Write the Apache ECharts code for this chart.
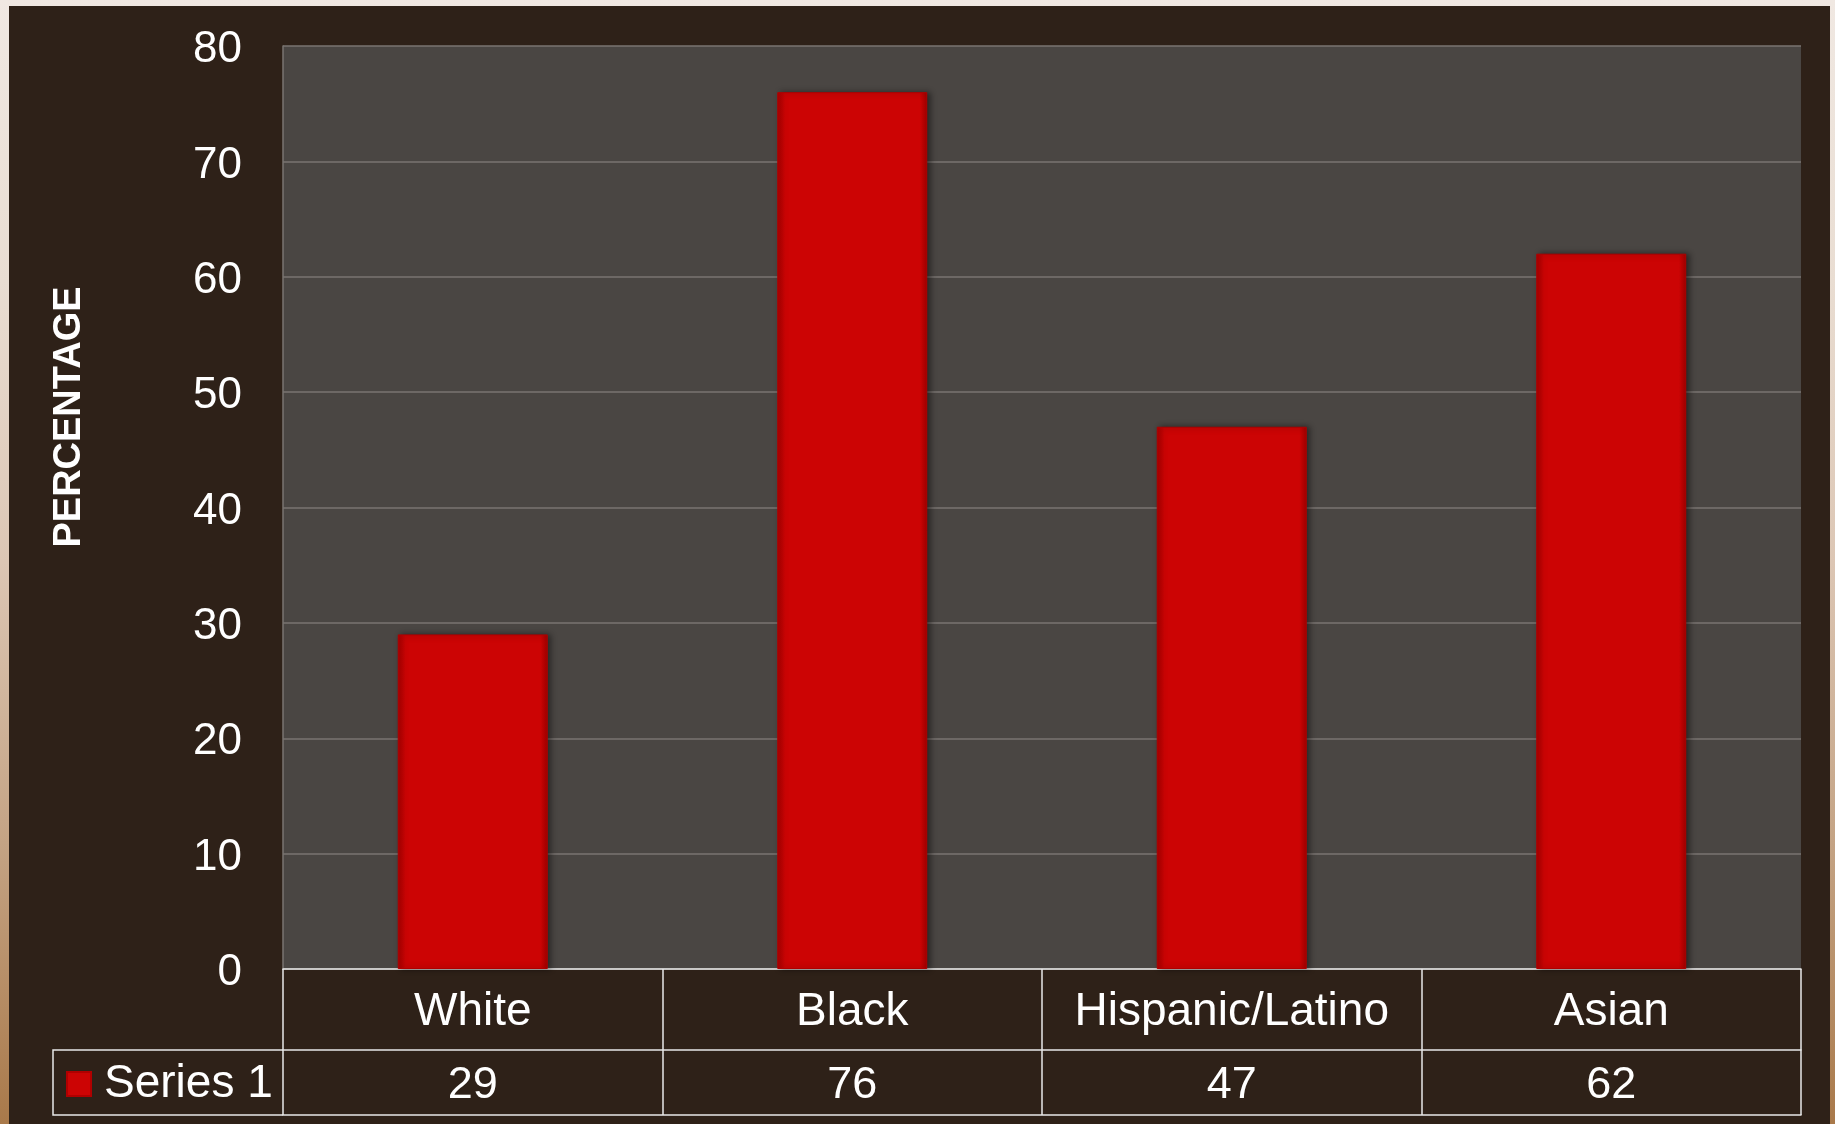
<!DOCTYPE html>
<html>
<head>
<meta charset="utf-8">
<script src="https://cdn.jsdelivr.net/npm/echarts@6/dist/echarts.min.js"></script>
<style>
html,body{margin:0;padding:0;width:1835px;height:1124px;overflow:hidden;}
body{background:linear-gradient(to bottom,#f0e8e2 0%,#e9ddd2 25%,#dcc6b4 50%,#c4a384 75%,#a9794a 100%);position:relative;}
#panel{position:absolute;left:9px;top:6px;width:1821px;height:1118px;background:#2e2118;}
#chart{position:absolute;left:0;top:0;width:1835px;height:1124px;}
</style>
</head>
<body>
<div id="panel"></div>
<div id="chart"></div>
<script>
const categories = ['White', 'Black', 'Hispanic/Latino', 'Asian'];
const seriesName = 'Series 1';
const values = [29, 76, 47, 62];
const yTicks = [0, 10, 20, 30, 40, 50, 60, 70, 80];
const axisTitle = 'PERCENTAGE';

const chart = echarts.init(document.getElementById('chart'), null, {renderer: 'canvas'});
const FONT = '"Liberation Sans", Arial, sans-serif';
const barColor = new echarts.graphic.LinearGradient(0, 0, 1, 0, [
  {offset: 0, color: '#a80000'},
  {offset: 0.05, color: '#cc0404'},
  {offset: 0.95, color: '#cc0404'},
  {offset: 1, color: '#a00000'}
]);

chart.setOption({
  backgroundColor: 'transparent',
  animation: false,
  grid: {
    left: 283, top: 46, right: 34, bottom: 155,
    show: true, backgroundColor: '#4a4643', borderWidth: 0,
    containLabel: false, outerBoundsMode: 'none'
  },
  legend: {
    show: true,
    left: 66, top: 1061, padding: 0,
    icon: 'rect', itemWidth: 24, itemHeight: 24,
    data: [seriesName],
    textStyle: {color: '#ffffff', fontSize: 46, fontFamily: FONT, padding: [0, 0, 0, 8]}
  },
  xAxis: [
    {
      type: 'category', data: categories, position: 'bottom',
      axisLine: {show: true, lineStyle: {color: '#e8e8e8', width: 1.5}},
      axisTick: {show: true, interval: 0, length: 146, lineStyle: {color: '#e8e8e8', width: 1.5}},
      axisLabel: {color: '#ffffff', fontSize: 46, fontFamily: FONT, margin: 20, interval: 0}
    },
    {
      type: 'category', data: categories, position: 'bottom', offset: 81,
      axisLine: {show: true, lineStyle: {color: '#e8e8e8', width: 1.5}},
      axisTick: {show: false},
      axisLabel: {color: '#ffffff', fontSize: 45, fontFamily: FONT, margin: 13, interval: 0,
        formatter: (v, i) => String(values[i])}
    },
    {
      type: 'category', data: categories, position: 'bottom', offset: 146,
      axisLine: {show: true, lineStyle: {color: '#e8e8e8', width: 1.5}},
      axisTick: {show: false},
      axisLabel: {show: false}
    }
  ],
  yAxis: {
    type: 'value', min: yTicks[0], max: yTicks[yTicks.length - 1], interval: 10,
    axisLine: {show: true, lineStyle: {color: '#7a7571', width: 1.5}},
    axisTick: {show: false},
    axisLabel: {color: '#ffffff', fontSize: 44, fontFamily: FONT, margin: 41, lineHeight: 8, verticalAlign: 'top',
      formatter: v => v},
    splitLine: {show: true, lineStyle: {color: '#7a7571', width: 1.5}}
  },
  series: [{
    name: seriesName,
    type: 'bar',
    xAxisIndex: 0,
    data: values,
    barWidth: 150,
    itemStyle: {
      color: barColor,
      borderColor: '#b00000', borderWidth: 1,
      shadowColor: 'rgba(0,0,0,0.45)', shadowBlur: 6, shadowOffsetX: 3, shadowOffsetY: 0
    }
  }],
  graphic: [
    {
      type: 'polyline', z: 10,
      shape: {points: [[283, 1050], [53, 1050], [53, 1115], [283, 1115]]},
      style: {stroke: '#e8e8e8', lineWidth: 1.5, fill: null}
    },
    {
      type: 'text', x: 70, y: 417, rotation: Math.PI / 2,
      style: {
        text: axisTitle, fill: '#ffffff',
        font: 'bold 38px "Liberation Sans", Arial, sans-serif',
        align: 'center', verticalAlign: 'middle'
      }
    }
  ]
});
</script>
</body>
</html>
